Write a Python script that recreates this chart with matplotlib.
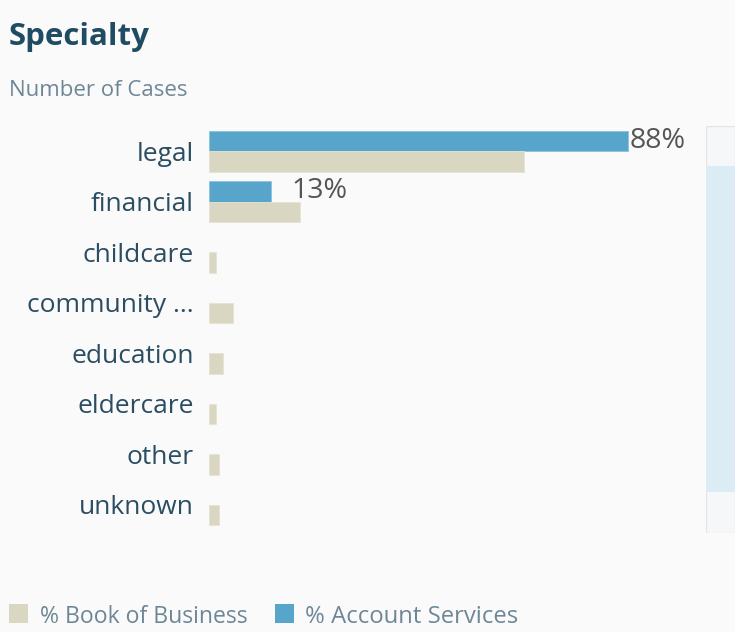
import matplotlib.pyplot as plt
from matplotlib.patches import Rectangle

categories = ["legal", "financial", "childcare", "community ...", "education",
              "eldercare", "other", "unknown"]
book_of_business = [66, 19, 1.5, 5, 3, 1.5, 2, 2]   # % Book of Business
account_services = [88, 13, 0, 0, 0, 0, 0, 0]       # % Account Services

BG = "#fafafa"
BEIGE = "#d9d6c1"
BLUE = "#58a5cb"
plt.rcParams["font.family"] = ["Open Sans", "DejaVu Sans"]

fig = plt.figure(figsize=(7.35, 6.32), dpi=100, facecolor=BG)
W, H = 735, 632
ax = fig.add_axes([209 / W, 1 - 530 / H, 491 / W, 404 / H], facecolor=BG)

y = list(range(len(categories)))
h = 0.41
ax.barh([i - h / 2 for i in y], account_services, height=h, color=BLUE,
        edgecolor="#8cc3de", linewidth=[0.6 if v else 0 for v in account_services])
ax.barh([i + h / 2 for i in y], book_of_business, height=h, color=BEIGE,
        edgecolor="#e6e3d3", linewidth=0.6)

# value labels only where account services has data
pads = {0: 0.2, 1: 4.3}
for i, v in enumerate(account_services):
    if v > 0:
        ax.text(v + pads.get(i, 0.5), i - h / 2, f"{v:.0f}%", va="center",
                ha="left", fontsize=20.5, color="#555555")

ax.set_xlim(0, 103)
ax.set_ylim(len(categories) - 0.5, -0.5)
ax.set_yticks(y)
ax.set_yticklabels(categories, fontsize=19, color="#2b4d62")
for lbl in ax.get_yticklabels():
    lbl.set_verticalalignment("center_baseline")
ax.tick_params(axis="y", length=0, pad=11)
ax.set_xticks([])
for s in ax.spines.values():
    s.set_visible(False)

# scroll bar on the right
sb = fig.add_axes([706 / W, 1 - 533 / H, 29 / W, 407 / H])
sb.set_xlim(0, 1)
sb.set_ylim(533, 126)
sb.axis("off")
sb.add_patch(Rectangle((0, 126), 1, 407, facecolor="#f6f7f8",
                       edgecolor="#e3e6e8", linewidth=1))
sb.add_patch(Rectangle((0, 166), 1, 326, facecolor="#dcecf4", edgecolor="none"))

fig.text(9 / W, 1 - 37 / H, "Specialty", fontsize=22.5, fontweight="bold",
         color="#1f4c63", va="center", ha="left")
fig.text(9 / W, 1 - 91 / H, "Number of Cases", fontsize=16,
         color="#6e8797", va="center", ha="left")

# legend along the bottom
fig.patches.append(Rectangle((9 / W, 1 - 623 / H), 19 / W, 19 / H,
                             transform=fig.transFigure, facecolor=BEIGE))
fig.text(40 / W, 1 - 617 / H, "% Book of Business", fontsize=16.6,
         color="#6e8797", va="center", ha="left")
fig.patches.append(Rectangle((275 / W, 1 - 623 / H), 19 / W, 19 / H,
                             transform=fig.transFigure, facecolor=BLUE))
fig.text(305 / W, 1 - 617 / H, "% Account Services", fontsize=17.2,
         color="#6e8797", va="center", ha="left")

fig.savefig("out.png", dpi=100, facecolor=BG)
